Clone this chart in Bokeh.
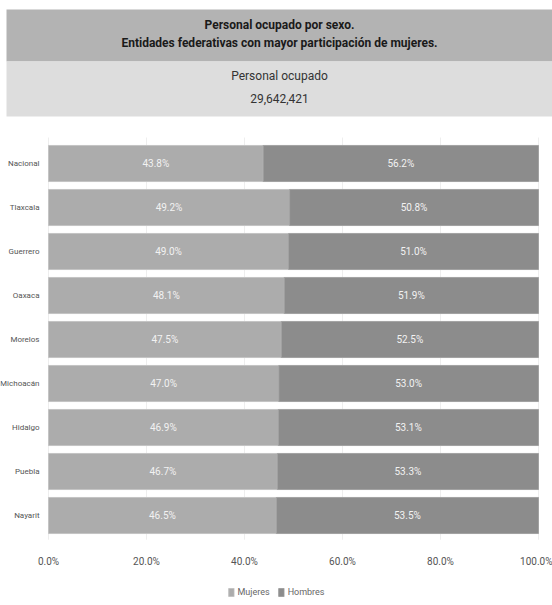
from bokeh.plotting import figure
from bokeh.models import (ColumnDataSource, Range1d, FixedTicker, PrintfTickFormatter, LabelSet, Legend,
                          LegendItem)
from bokeh.core.properties import value
from bokeh.embed import file_html
from bokeh.resources import INLINE

categories = ["Nacional", "Tlaxcala", "Guerrero", "Oaxaca", "Morelos", "Michoacán", "Hidalgo", "Puebla", "Nayarit"]
mujeres = [43.8, 49.2, 49.0, 48.1, 47.5, 47.0, 46.9, 46.7, 46.5]
hombres = [56.2, 50.8, 51.0, 51.9, 52.5, 53.0, 53.1, 53.3, 53.5]
x_ticks = [0, 20, 40, 60, 80, 100]
title_lines = ["Personal ocupado por sexo.", "Entidades federativas con mayor participación de mujeres."]
subtitle_lines = ["Personal ocupado", "29,642,421"]

FNT = "Roboto"
W, H = 552, 603          # figure size in px
ROW = 44.0               # px per category row
PX = 4.9                 # px per percent unit
n = len(categories)

# frame covers the whole figure; convert pixel layout to data units
X0, X1 = -48 / PX, 100 + (W - 538) / PX
Y0, Y1 = -(H - 537) / ROW, 537 / ROW
def ypx(py):
    return (537 - py) / ROW
def xpx(px):
    return (px - 48) / PX

ypos = [n - 0.5 - i for i in range(n)]
src = ColumnDataSource(dict(
    y=ypos,
    Mujeres=mujeres,
    Hombres=hombres,
    xm=[m / 2 for m in mujeres],
    xh=[m + hh / 2 for m, hh in zip(mujeres, hombres)],
    tm=["%.1f%%" % m for m in mujeres],
    th=["%.1f%%" % hh for hh in hombres],
))

p = figure(width=W, height=H, x_range=Range1d(X0, X1), y_range=Range1d(Y0, Y1),
           output_backend="svg", toolbar_location=None, min_border=0)
p.outline_line_color = None
p.grid.visible = False

# header bands and texts
p.quad(left=[xpx(6), xpx(6)], right=[X1, X1], top=[ypx(9), ypx(61)], bottom=[ypx(61), ypx(116)],
       color=["#b3b3b3", "#dddddd"], line_color=None)
xc = xpx(279)
p.text(x=[xc, xc], y=[ypx(24), ypx(42)], text=title_lines, text_align="center", text_baseline="middle",
       text_font=value(FNT), text_font_style="bold", text_font_size="12px", text_color="#1a1a1a")
p.text(x=[xc, xc], y=[ypx(75), ypx(98)], text=subtitle_lines, text_align="center", text_baseline="middle",
       text_font=value(FNT), text_font_size="12px", text_color="#333333")

# faint vertical grid lines within the bar area
p.segment(x0=x_ticks, x1=x_ticks, y0=[-0.05] * len(x_ticks), y1=[n + 0.09] * len(x_ticks),
          line_color="#eeeeee", line_width=1)

rs = p.hbar_stack(["Mujeres", "Hombres"], y="y", height=0.82, source=src,
                  color=["#acacac", "#8c8c8c"], line_color=["#c4c4c4", "#a2a2a2"], line_width=1)

for xcol, tcol in (("xm", "tm"), ("xh", "th")):
    p.add_layout(LabelSet(x=xcol, y="y", text=tcol, source=src, text_align="center", text_baseline="middle",
                          text_color="#f2f2f2", text_font=value(FNT), text_font_size="10px"))

# axes positioned inside the frame
p.xaxis.fixed_location = 0
p.yaxis.fixed_location = 0
p.xaxis.ticker = FixedTicker(ticks=x_ticks)
p.xaxis.formatter = PrintfTickFormatter(format="%.1f%%")
p.yaxis.ticker = FixedTicker(ticks=ypos)
p.yaxis.major_label_overrides = {yv: c for yv, c in zip(ypos, categories)}
for ax in (p.xaxis[0], p.yaxis[0]):
    ax.axis_line_color = None
    ax.major_tick_line_color = None
    ax.minor_tick_line_color = None
    ax.major_label_text_font = FNT
    ax.major_label_text_font_size = "10px"
    ax.major_label_text_color = "#555555"
p.yaxis.major_label_text_font_size = "8px"
p.xaxis.major_label_standoff = 12
p.yaxis.major_label_standoff = 3

legend = Legend(items=[LegendItem(label="Mujeres", renderers=[rs[0]]), LegendItem(label="Hombres", renderers=[rs[1]])],
                orientation="horizontal", location="bottom_center", glyph_width=7, glyph_height=10,
                label_text_font=FNT, label_text_font_size="9px", label_text_color="#666666",
                border_line_color=None, background_fill_alpha=0, spacing=8, padding=2, margin=6, label_standoff=3)
p.add_layout(legend)

open("out.html", "w").write(file_html(p, INLINE))
